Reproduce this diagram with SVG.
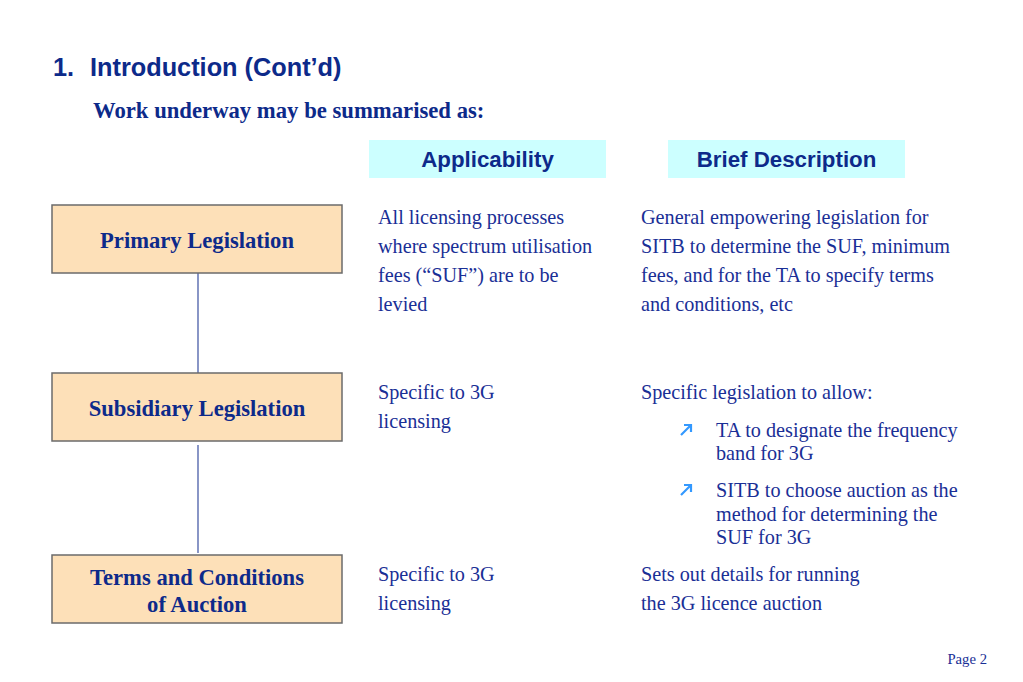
<svg xmlns="http://www.w3.org/2000/svg" width="1023" height="682" viewBox="0 0 1023 682">
<defs>
<path id="arr" d="M0,11 L10,1 M3,1 L10,1 L10,8" fill="none" stroke="#3399ff" stroke-width="2.2"/>
</defs>
<style>
.t{font-family:"Liberation Serif",serif;font-size:20.2px;fill:#1a2f96}
.nb{font-family:"Liberation Serif",serif;font-size:22.6px;font-weight:bold;fill:#0d2a8a;text-anchor:middle}
.hd{font-family:"Liberation Sans",Arial,sans-serif;font-size:22.3px;font-weight:bold;fill:#0d2a8a;text-anchor:middle}
.box{fill:#fde0b8;stroke:#6b6b6b;stroke-width:1.5}
.hbox{fill:#ccffff}
</style>
<rect width="1023" height="682" fill="#ffffff"/>
<text x="53" y="76" font-family="Liberation Sans,Arial,sans-serif" font-size="25.3" font-weight="bold" fill="#0d2a8a">1.</text>
<text x="90" y="76" font-family="Liberation Sans,Arial,sans-serif" font-size="25.3" font-weight="bold" fill="#0d2a8a">Introduction (Cont’d)</text>
<text x="93" y="118" font-family="Liberation Serif,serif" font-size="22.7" font-weight="bold" fill="#0d2a8a">Work underway may be summarised as:</text>
<g id="hdr-applicability"><rect class="hbox" x="369" y="140" width="237" height="38"/><text class="hd" x="487.5" y="167">Applicability</text></g>
<g id="hdr-description"><rect class="hbox" x="668" y="140" width="237" height="38"/><text class="hd" x="786.5" y="167">Brief Description</text></g>
<g id="connectors" stroke="#3a4fa0" stroke-width="1.2">
<line x1="198" y1="273" x2="198" y2="373"/>
<line x1="198" y1="445" x2="198" y2="553"/>
</g>
<g id="primary"><rect class="box" x="52" y="205" width="290" height="68"/><text class="nb" x="197" y="248">Primary Legislation</text></g>
<g id="subsidiary"><rect class="box" x="52" y="373" width="290" height="68"/><text class="nb" x="197" y="416">Subsidiary Legislation</text></g>
<g id="terms"><rect class="box" x="52" y="555" width="290" height="68"/><text class="nb" x="197" y="585">Terms and Conditions</text><text class="nb" x="197" y="612">of Auction</text></g>
<g id="text-primary">
<text class="t" x="378" y="224">All licensing processes</text>
<text class="t" x="378" y="253">where spectrum utilisation</text>
<text class="t" x="378" y="282">fees (“SUF”) are to be</text>
<text class="t" x="378" y="311">levied</text>
<text class="t" x="641" y="224">General empowering legislation for</text>
<text class="t" x="641" y="253">SITB to determine the SUF, minimum</text>
<text class="t" x="641" y="282">fees, and for the TA to specify terms</text>
<text class="t" x="641" y="311">and conditions, etc</text>
</g>
<g id="text-subsidiary">
<text class="t" x="378" y="399">Specific to 3G</text>
<text class="t" x="378" y="428">licensing</text>
<text class="t" x="641" y="399">Specific legislation to allow:</text>
<use href="#arr" x="681" y="424"/>
<text class="t" x="716" y="437">TA to designate the frequency</text>
<text class="t" x="716" y="460">band for 3G</text>
<use href="#arr" x="681" y="484"/>
<text class="t" x="716" y="497">SITB to choose auction as the</text>
<text class="t" x="716" y="521">method for determining the</text>
<text class="t" x="716" y="544">SUF for 3G</text>
</g>
<g id="text-terms">
<text class="t" x="378" y="581">Specific to 3G</text>
<text class="t" x="378" y="610">licensing</text>
<text class="t" x="641" y="581">Sets out details for running</text>
<text class="t" x="641" y="610">the 3G licence auction</text>
</g>
<text x="987" y="664" font-family="Liberation Serif,serif" font-size="14.7" fill="#1a2f96" text-anchor="end">Page 2</text>
</svg>
